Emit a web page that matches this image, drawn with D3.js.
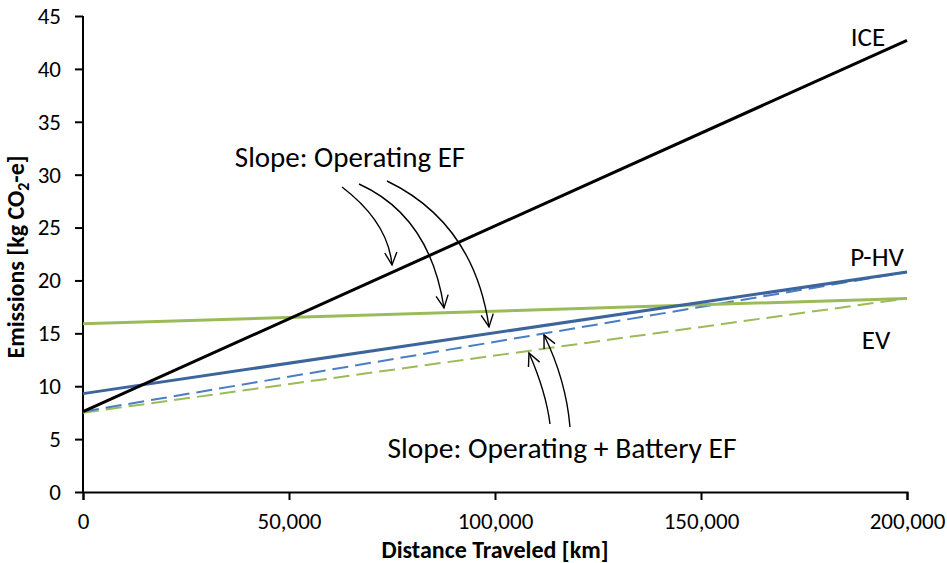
<!DOCTYPE html>
<html><head><meta charset="utf-8">
<script src="https://cdn.jsdelivr.net/npm/d3@7"></script>
<style>body{margin:0;background:#fff}svg{display:block;font-family:Carlito,Lato,"Open Sans",sans-serif}</style>
</head><body><svg id="c" width="947" height="563"></svg>
<script>
const xEnds = [0, 200000];
const iceValues = [7.6, 42.7];
const phvSolidValues = [9.3, 20.8];
const evSolidValues = [15.9, 18.3];
const phvDashedValues = [7.6, 20.8];
const evDashedValues = [7.5, 18.3];
const xTicks = [0, 50000, 100000, 150000, 200000];
const yTicks = [0, 5, 10, 15, 20, 25, 30, 35, 40, 45];
const seriesNames = ["ICE", "P-HV", "EV"];
const annotations = ["Slope: Operating EF", "Slope: Operating + Battery EF"];

const svg = d3.select("#c");
const x = d3.scaleLinear().domain([0, 200000]).range([83, 907]);
const y = d3.scaleLinear().domain([0, 45]).range([492, 16]);

const fmt = d3.format(",");
const xa = svg.append("g").attr("transform", "translate(0,492)")
  .call(d3.axisBottom(x).tickValues(xTicks).tickFormat(fmt).tickSizeOuter(0).tickSize(8).tickPadding(13));
const ya = svg.append("g").attr("transform", "translate(83,0)")
  .call(d3.axisLeft(y).tickValues(yTicks).tickSizeOuter(0).tickSize(8).tickPadding(14));
[xa, ya].forEach(a => {
  a.select(".domain").attr("stroke", "#000").attr("stroke-width", 2);
  a.selectAll(".tick line").attr("stroke", "#000").attr("stroke-width", 2);
  a.selectAll("text").attr("font-size", 23).attr("fill", "#000").attr("font-family", "Carlito,Lato,sans-serif");
});
ya.select(".domain").attr("d", `M0,${y(45)}V${y(0)}`);

const line = d3.line().x(d => x(d[0])).y(d => y(d[1]));
function pts(vals){ return xEnds.map((xv,i)=>[xv, vals[i]]); }

svg.append("path").attr("d", line(pts(evDashedValues))).attr("fill","none").attr("stroke","#9BBB59").attr("stroke-width",2).attr("stroke-dasharray","16,7");
svg.append("path").attr("d", line(pts(phvDashedValues))).attr("fill","none").attr("stroke","#4A7EC4").attr("stroke-width",2).attr("stroke-dasharray","16,7");
svg.append("path").attr("d", line(pts(evSolidValues))).attr("fill","none").attr("stroke","#9BBB59").attr("stroke-width",3);
svg.append("path").attr("d", line(pts(phvSolidValues))).attr("fill","none").attr("stroke","#3C659C").attr("stroke-width",3);
svg.append("path").attr("d", line(pts(iceValues))).attr("fill","none").attr("stroke","#000").attr("stroke-width",3);

const lab = svg.append("g").attr("font-size", 27).attr("fill", "#000");
lab.append("text").attr("x", 868).attr("y", 46).attr("text-anchor","middle").text(seriesNames[0]);
lab.append("text").attr("x", 877).attr("y", 266).attr("text-anchor","middle").text(seriesNames[1]);
lab.append("text").attr("x", 876).attr("y", 349).attr("text-anchor","middle").text(seriesNames[2]);

const an = svg.append("g").attr("fill", "#000");
an.append("text").attr("font-size", 29).attr("x", 350).attr("y", 167).attr("text-anchor","middle").text(annotations[0]);
an.append("text").attr("font-size", 29.5).attr("x", 562).attr("y", 458).attr("text-anchor","middle").text(annotations[1]);

function arrow(s, c, e){
  const g = svg.append("g").attr("fill","none").attr("stroke","#000").attr("stroke-width",1.4);
  g.append("path").attr("d", `M${s[0]},${s[1]}Q${c[0]},${c[1]} ${e[0]},${e[1]}`);
  const ang = Math.atan2(e[1]-c[1], e[0]-c[0]);
  const L = 14, a = 0.45;
  const p1 = [e[0]-L*Math.cos(ang-a), e[1]-L*Math.sin(ang-a)];
  const p2 = [e[0]-L*Math.cos(ang+a), e[1]-L*Math.sin(ang+a)];
  g.append("path").attr("d", `M${p1[0]},${p1[1]}L${e[0]},${e[1]}L${p2[0]},${p2[1]}`);
}
arrow([342,187],[388,222],[392,265]);
arrow([359,184],[430,216],[444,308]);
arrow([387,181],[474,223],[489,327]);
arrow([550,424],[546,392],[529,353]);
arrow([570,427],[566,380],[544,335]);

svg.append("text").attr("x", 495).attr("y", 558).attr("text-anchor","middle")
  .attr("font-size", 24).attr("font-weight","bold").text("Distance Traveled [km]");
const yt = svg.append("text").attr("transform","translate(24,257) rotate(-90)").attr("text-anchor","middle")
  .attr("font-size", 24).attr("font-weight","bold");
yt.append("tspan").text("Emissions [kg CO");
yt.append("tspan").attr("font-size", 16).attr("dy", 5).text("2");
yt.append("tspan").attr("dy", -5).text("-e]");
</script></body></html>
